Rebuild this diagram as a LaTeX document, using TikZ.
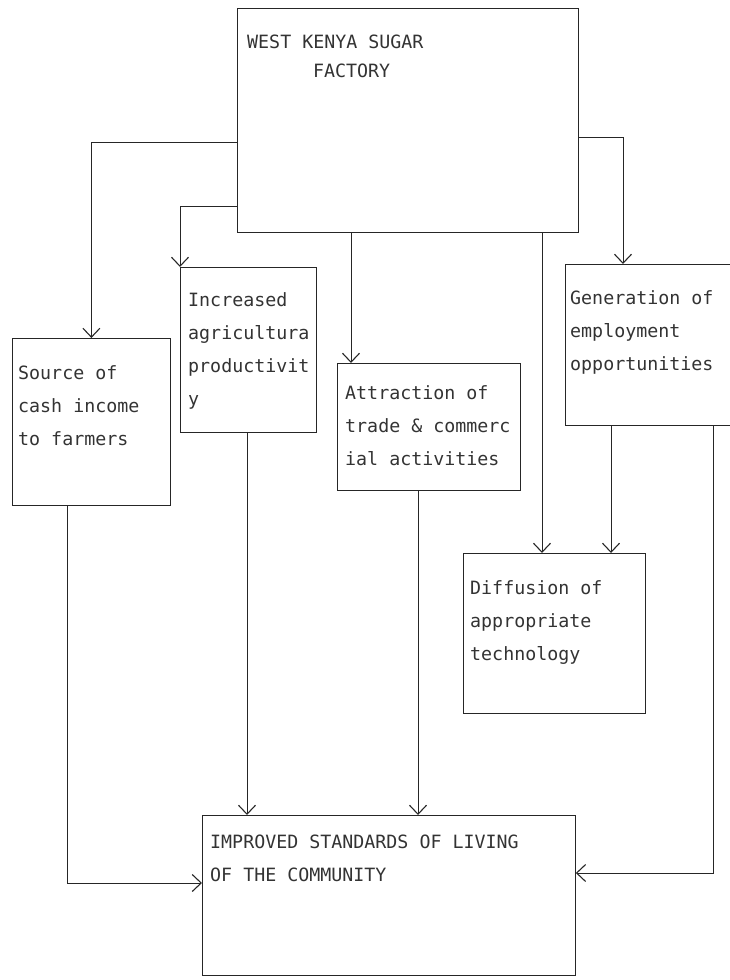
\documentclass[tikz,border=0pt]{standalone}
\usepackage{fontspec}
\newfontfamily\dotfont{DejaVu Sans Mono}
\usetikzlibrary{arrows.meta}

\begin{document}
\begin{tikzpicture}[x=1pt, y=-1pt,
		box/.style={draw=black!85, line width=0.8pt, anchor=north west, inner sep=0pt},
		txt/.style={anchor=north west, inner sep=0pt, align=left, text=black!80, font=\dotfont\fontsize{18.3}{33}\selectfont},
		arr/.style={draw=black!85, line width=0.7pt, -{Straight Barb[length=9pt, width=17pt, line width=1.1pt]}}]
		%%%%% START %%%%%
		
		\useasboundingbox (0,0) rectangle (729,980);
		
		\node[box, minimum width=341pt, minimum height=224pt] (fac) at (237, 8) {};
		\node[txt, font=\dotfont\fontsize{18.3}{29}\selectfont] (fac-txt) at (247, 35) {WEST KENYA SUGAR\\\hspace*{3.6em}FACTORY};
		
		\node[box, minimum width=136pt, minimum height=165pt] (inc) at (180, 267) {};
		\node[txt] (inc-txt) at (188, 292) {Increased\\agricultura\\productivit\\y};
		
		\node[box, minimum width=158pt, minimum height=167pt] (src) at (12, 338) {};
		\node[txt] (src-txt) at (18, 365) {Source of\\cash income\\to farmers};
		
		\node[box, minimum width=183pt, minimum height=127pt] (att) at (337, 363) {};
		\node[txt] (att-txt) at (345, 385) {Attraction of\\trade \& commerc\\ial activities};
		
		\node[box, minimum width=170pt, minimum height=161pt] (gen) at (565, 264) {};
		\node[txt] (gen-txt) at (570, 290) {Generation of\\employment\\opportunities};
		
		\node[box, minimum width=182pt, minimum height=160pt] (dif) at (463, 553) {};
		\node[txt] (dif-txt) at (470, 580) {Diffusion of\\appropriate\\technology};
		
		\node[box, minimum width=373pt, minimum height=160pt] (imp) at (202, 815) {};
		\node[txt] (imp-txt) at (210, 835) {IMPROVED STANDARDS OF LIVING\\OF THE COMMUNITY};
		
		% out of the factory
		\draw[arr] ([yshift=-134pt]fac.north west) -| (src.north);
		\draw[arr] ([yshift=-198pt]fac.north west) -| (inc.north west);
		\draw[arr] ([xshift=114pt]fac.south west) -- ([xshift=14pt]att.north west);
		\draw[arr] ([xshift=305pt]fac.south west) -- ([xshift=79pt]dif.north west);
		\draw[arr] ([yshift=-129pt]fac.north east) -| ([xshift=58pt]gen.north west);
		
		\draw[arr] ([xshift=46pt]gen.south west) -- ([xshift=148pt]dif.north west);
		
		% into the community box
		\draw[arr] ([xshift=55pt]src.south west) |- ([yshift=-68pt]imp.north west);
		\draw[arr] ([xshift=67pt]inc.south west) -- ([xshift=45pt]imp.north west);
		\draw[arr] ([xshift=81pt]att.south west) -- ([xshift=216pt]imp.north west);
		\draw[arr] ([xshift=148pt]gen.south west) |- ([yshift=-58pt]imp.north east);
		
		%%%%% END %%%%%
	\end{tikzpicture}
\end{document}
